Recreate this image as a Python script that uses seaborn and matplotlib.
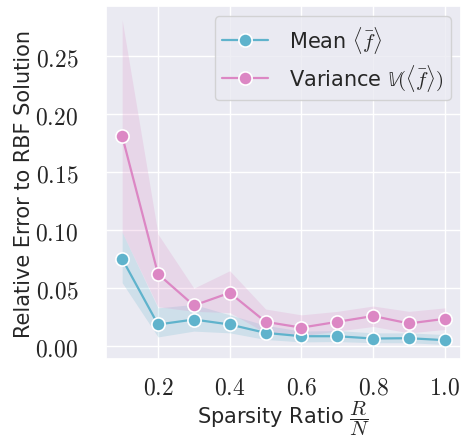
import matplotlib
matplotlib.use("Agg")
import matplotlib.pyplot as plt
import seaborn as sns
import pandas as pd
from matplotlib.ticker import FuncFormatter

# values
ratio = [0.1, 0.2, 0.3, 0.4, 0.5, 0.6, 0.7, 0.8, 0.9, 1.0]
mean_err = [0.0752, 0.0187, 0.0230, 0.0187, 0.0115, 0.0086, 0.0086, 0.0066, 0.0069, 0.0052]
mean_lo = [0.0547, 0.0080, 0.0130, 0.0115, 0.0058, 0.0037, 0.0040, 0.0030, 0.0030, 0.0015]
mean_hi = [0.0980, 0.0330, 0.0360, 0.0270, 0.0180, 0.0130, 0.0135, 0.0115, 0.0115, 0.0100]
var_err = [0.1810, 0.0622, 0.0351, 0.0460, 0.0210, 0.0160, 0.0210, 0.0260, 0.0196, 0.0236]
var_lo = [0.0980, 0.0340, 0.0300, 0.0290, 0.0115, 0.0090, 0.0130, 0.0170, 0.0115, 0.0144]
var_hi = [0.2810, 0.0965, 0.0500, 0.0650, 0.0320, 0.0270, 0.0300, 0.0346, 0.0300, 0.0330]

labels = [r"Mean $\langle \bar{f} \rangle$", r"Variance $\mathbb{V}(\langle \bar{f} \rangle)$"]
colors = ["#5fb3cc", "#dc87c4"]

sns.set_theme(style="darkgrid")
plt.rcParams["font.family"] = ["DejaVu Sans"]
plt.rcParams["mathtext.fontset"] = "cm"

df = pd.DataFrame({
    "ratio": ratio * 2,
    "error": mean_err + var_err,
    "series": [labels[0]] * len(ratio) + [labels[1]] * len(ratio),
})

fig = plt.figure(figsize=(4.61, 4.39), dpi=100)
ax = fig.add_axes([0.23, 0.18, 0.77, 0.804])

ax.fill_between(ratio, mean_lo, mean_hi, color=colors[0], alpha=0.2, linewidth=0)
ax.fill_between(ratio, var_lo, var_hi, color=colors[1], alpha=0.2, linewidth=0)
sns.lineplot(data=df, x="ratio", y="error", hue="series", palette=colors,
             marker="o", markersize=9.5, markeredgecolor="white", markeredgewidth=1.2,
             linewidth=1.6, ax=ax)

ax.set_xlim(0.055, 1.045)
ax.set_ylim(-0.011, 0.293)
ax.set_xticks([0.2, 0.4, 0.6, 0.8, 1.0])
ax.set_yticks([0.0, 0.05, 0.10, 0.15, 0.20, 0.25])
ax.xaxis.set_major_formatter(FuncFormatter(lambda v, p: f"${v:.1f}$"))
ax.yaxis.set_major_formatter(FuncFormatter(lambda v, p: f"${v:.2f}$"))
ax.tick_params(axis="x", labelsize=17, pad=5)
ax.tick_params(axis="y", labelsize=17, pad=14)
ax.set_xlabel(r"Sparsity Ratio $\dfrac{R}{N}$", fontsize=15, labelpad=0)
ax.set_ylabel("Relative Error to RBF Solution", fontsize=15, labelpad=1)

ax.legend(loc="upper right", fontsize=15, title=None, borderpad=0.35, labelspacing=0.35,
          handlelength=2.2, handletextpad=1.0, borderaxespad=0.5)

fig.savefig("out.png", dpi=100)
